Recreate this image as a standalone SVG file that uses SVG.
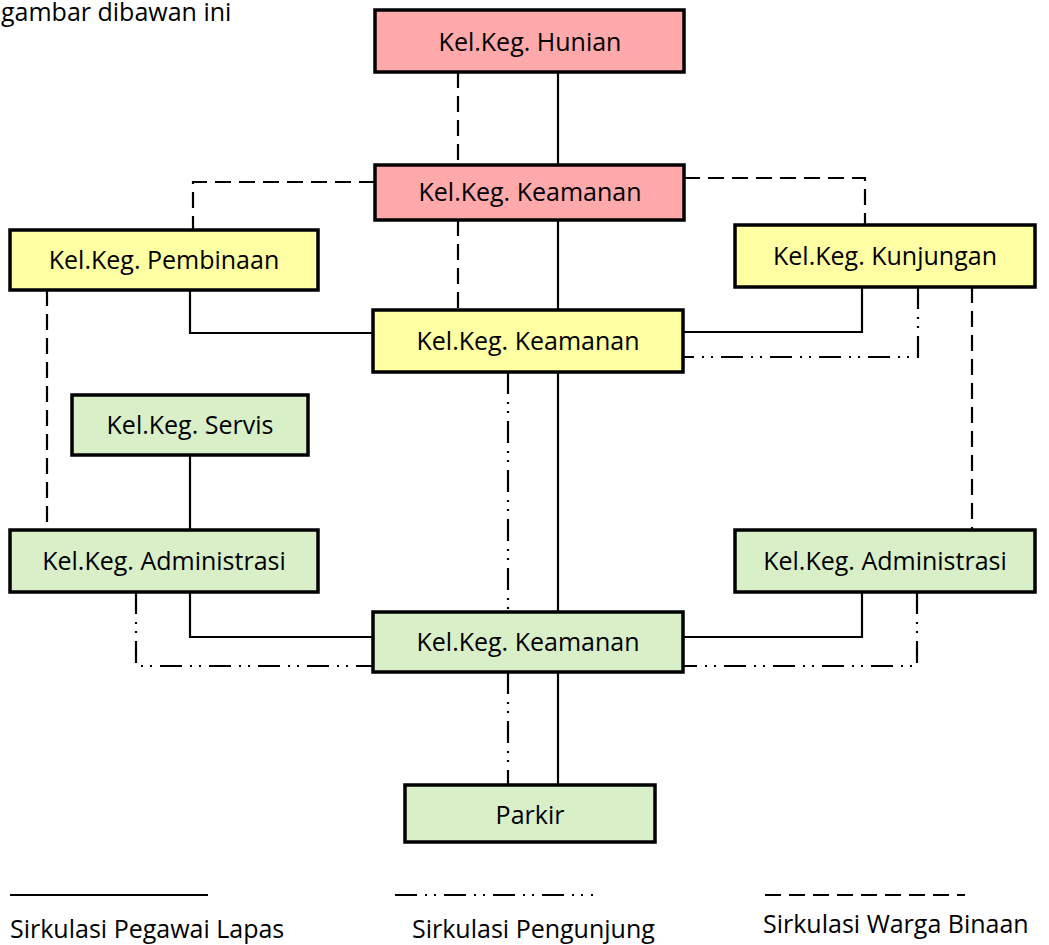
<svg xmlns="http://www.w3.org/2000/svg" width="1049" height="945" viewBox="0 0 1049 945">
<style>
.box{stroke:#000;stroke-width:3.5}
.pink{fill:#FFA9AB}
.yel{fill:#FFFFA3}
.grn{fill:#D9EFC8}
.lbl{font-family:"Open Sans","Liberation Sans",sans-serif;font-size:25px;fill:#000;text-anchor:middle;dominant-baseline:central}
.leg{font-family:"Open Sans","Liberation Sans",sans-serif;font-size:25px;fill:#000}
.c{fill:none;stroke:#000;stroke-width:2.2}
.dash{stroke-dasharray:16 8}
.dd{stroke-dasharray:22 8 2 7 2 8}
</style>
<rect width="1049" height="945" fill="#fff"/>
<text class="leg" x="1" y="21">gambar dibawan ini</text>
<g id="connectors">
<path class="c" d="M558 72V165"/>
<path class="c dash" d="M458 72V165"/>
<path class="c" d="M558 220V310"/>
<path class="c dash" d="M458 220V310"/>
<path class="c dash" d="M375 182H193V230"/>
<path class="c dash" d="M684 178H865V225"/>
<path class="c" d="M190 290V333H373"/>
<path class="c dash" d="M47 290V530"/>
<path class="c" d="M862 287V332H683"/>
<path class="c dd" d="M918 287V357H683"/>
<path class="c dash" d="M972 287V530"/>
<path class="c" d="M558 372V612"/>
<path class="c dd" d="M508 372V612"/>
<path class="c" d="M190 455V530"/>
<path class="c" d="M190 592V637H373"/>
<path class="c dd" d="M136 592V666H373"/>
<path class="c" d="M862 592V637H683"/>
<path class="c dd" d="M917 592V666H683"/>
<path class="c" d="M558 672V785"/>
<path class="c dd" d="M508 672V785"/>
</g>
<g id="hunian"><rect class="box pink" x="375" y="10" width="309" height="62"/><text class="lbl" x="530" y="41">Kel.Keg. Hunian</text></g>
<g id="keamanan1"><rect class="box pink" x="375" y="165" width="309" height="55"/><text class="lbl" x="530" y="191">Kel.Keg. Keamanan</text></g>
<g id="pembinaan"><rect class="box yel" x="10" y="230" width="308" height="60"/><text class="lbl" x="164" y="259">Kel.Keg. Pembinaan</text></g>
<g id="kunjungan"><rect class="box yel" x="735" y="225" width="300" height="62"/><text class="lbl" x="885" y="255">Kel.Keg. Kunjungan</text></g>
<g id="keamanan2"><rect class="box yel" x="373" y="310" width="310" height="62"/><text class="lbl" x="528" y="340">Kel.Keg. Keamanan</text></g>
<g id="servis"><rect class="box grn" x="72" y="395" width="236" height="60"/><text class="lbl" x="190" y="424">Kel.Keg. Servis</text></g>
<g id="admin1"><rect class="box grn" x="10" y="530" width="308" height="62"/><text class="lbl" x="164" y="560">Kel.Keg. Administrasi</text></g>
<g id="admin2"><rect class="box grn" x="735" y="530" width="300" height="62"/><text class="lbl" x="885" y="560">Kel.Keg. Administrasi</text></g>
<g id="keamanan3"><rect class="box grn" x="373" y="612" width="310" height="60"/><text class="lbl" x="528" y="641">Kel.Keg. Keamanan</text></g>
<g id="parkir"><rect class="box grn" x="405" y="785" width="250" height="57"/><text class="lbl" x="530" y="814">Parkir</text></g>
<g id="legend">
<path class="c" d="M10 895H208"/>
<path class="c dd" d="M395 895H593"/>
<path class="c dash" d="M765 895H965"/>
<text class="leg" x="10" y="938">Sirkulasi Pegawai Lapas</text>
<text class="leg" x="412" y="938">Sirkulasi Pengunjung</text>
<text class="leg" x="763" y="933">Sirkulasi Warga Binaan</text>
</g>
</svg>
